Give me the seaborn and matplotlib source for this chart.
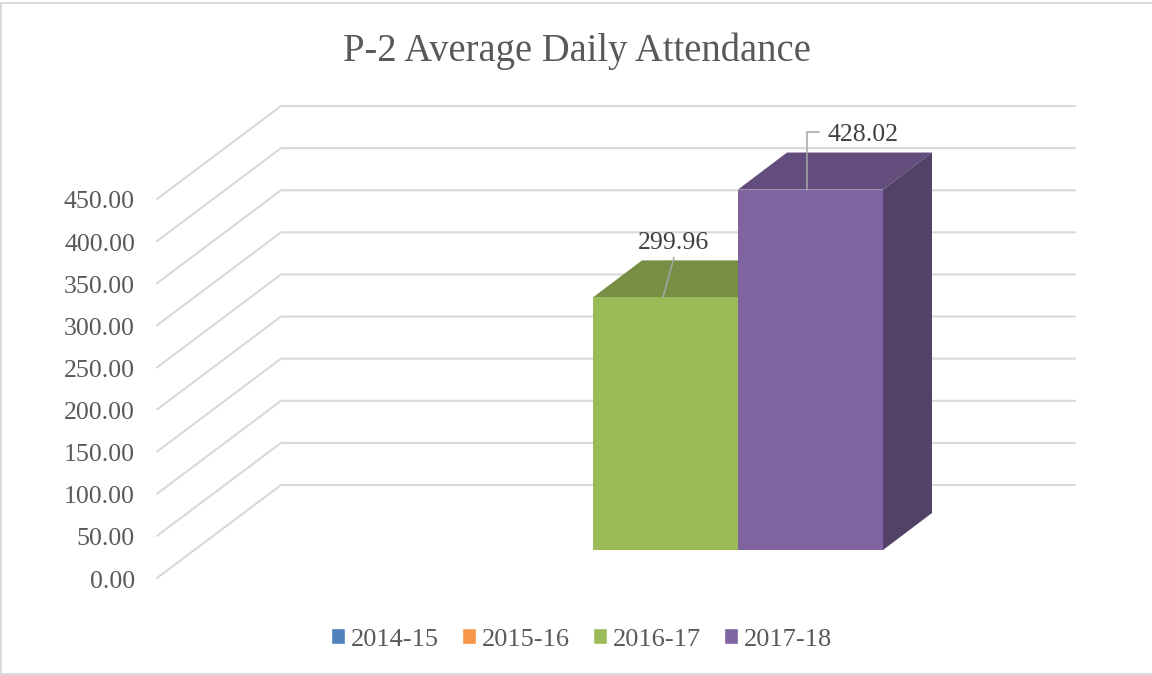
import numpy as np
import pandas as pd
import matplotlib
matplotlib.use("Agg")
import matplotlib.pyplot as plt
from matplotlib.lines import Line2D
from matplotlib.patches import Polygon, Rectangle
from matplotlib.colors import to_rgb
import seaborn as sns

# Data
title = "P-2 Average Daily Attendance"
years = ["2014-15", "2015-16", "2016-17", "2017-18"]
values = [np.nan, np.nan, 299.96, 428.02]
ticks = [0, 50, 100, 150, 200, 250, 300, 350, 400, 450]
colors = ["#4F81BD", "#F79646", "#9BBB59", "#8064A2"]

# Style / geometry (pixels of the 1152x675 canvas)
W, H = 1152, 675
PX_PER_UNIT = 0.8422
BAR_W = 145.0
X0_PX = 375.5      # centre of first bar
Y0_PX = 550.0      # floor of the bars' front face
DEPTH_X, DEPTH_Y = 49.0, 37.0
GRID = "#D9D9D9"
TICK_TXT = "#595959"
LABEL_TXT = "#404040"
LEADER = "#A6A6A6"
FONT = "Liberation Serif"


def dx(px):
    return px / BAR_W


def dy(px):
    return px / PX_PER_UNIT


def xd(px):
    return (px - X0_PX) / BAR_W


def yd(py):
    return (Y0_PX - py) / PX_PER_UNIT


sns.set_theme(style="white")
plt.rcParams["font.family"] = [FONT, "DejaVu Serif"]

fig = plt.figure(figsize=(W / 100, H / 100), dpi=100, facecolor="white")
ax = fig.add_axes([0, 0, 1, 1])
df = pd.DataFrame({"year": years, "value": values})
sns.barplot(data=df, x="year", y="value", hue="year", order=years, hue_order=years,
            palette=colors, width=1.0, saturation=1.0, ax=ax, zorder=3, legend=True)
ax.set_xlim(xd(0), xd(W))
ax.set_ylim(yd(H), yd(0))
ax.set_axis_off()

# Back wall grid with receding floor lines
FRONT_X, FRONT_Y0 = 157.0, 578.0
FRONT_SCALE = (578.0 - 199.0) / 450.0
BACK_X, BACK_Y0 = 281.0, 485.0
RIGHT_X = 1075.0
for t in ticks:
    ax.plot([xd(FRONT_X), xd(BACK_X), xd(RIGHT_X)],
            [yd(FRONT_Y0 - t * FRONT_SCALE), yd(BACK_Y0 - t * PX_PER_UNIT), yd(BACK_Y0 - t * PX_PER_UNIT)],
            color=GRID, lw=1.5, zorder=1, solid_joinstyle="miter")


def shade(c, f):
    return tuple(v * f for v in to_rgb(c))


# 3D faces for each bar
fronts = [p for p in ax.patches if isinstance(p, Rectangle)]
z = 2.0
for i, (v, c) in enumerate(zip(values, colors)):
    if np.isnan(v):
        continue
    l, r = i - 0.5, i + 0.5
    ddx, ddy = dx(DEPTH_X), dy(DEPTH_Y)
    top = Polygon([(l, v), (r, v), (r + ddx, v + ddy), (l + ddx, v + ddy)],
                  closed=True, facecolor=shade(c, 0.765), edgecolor="none", zorder=z)
    side = Polygon([(r, 0), (r + ddx, ddy), (r + ddx, v + ddy), (r, v)],
                   closed=True, facecolor=shade(c, 0.645), edgecolor="none", zorder=z)
    ax.add_patch(top)
    ax.add_patch(side)
    for p in fronts:
        if abs(p.get_x() - l) < 1e-6:
            p.set_zorder(z + 0.5)
            p.set_edgecolor("none")
    z += 1.0

# Leader lines and data labels
v_g, v_p = values[2], values[3]
ax.plot([2 + dx(-2.5), 2 + dx(8.5)], [v_g, v_g + dy(40)], color=LEADER, lw=1.1, zorder=8)
ax.plot([3 + dx(-3.5), 3 + dx(-3.5), 3 + dx(8.5)], [v_p, v_p + dy(58), v_p + dy(58)],
        color=LEADER, lw=1.1, zorder=8, solid_joinstyle="miter")
ax.annotate(f"{v_g:.2f}", (2, v_g), xytext=(8 * 0.72, 54 * 0.72), textcoords="offset points",
            ha="center", va="center", fontsize=18.6, color=LABEL_TXT, zorder=9)
ax.annotate(f"{v_p:.2f}", (3, v_p), xytext=(53 * 0.72, 55 * 0.72), textcoords="offset points",
            ha="center", va="center", fontsize=18.6, color=LABEL_TXT, zorder=9)

# Value axis labels on the front plane
ax2 = fig.add_axes([FRONT_X / W, 1 - (FRONT_Y0 + 1) / H, 0.01, (FRONT_SCALE * 450) / H])
ax2.patch.set_alpha(0)
ax2.set_ylim(0, 450)
ax2.set_yticks(ticks)
ax2.set_yticklabels([f"{t:.2f}" for t in ticks], fontsize=18.6, color=TICK_TXT)
ax2.set_xticks([])
ax2.tick_params(axis="y", length=0, pad=22 * 0.72)
for s in ax2.spines.values():
    s.set_visible(False)

# Title
fig.text(577 / W, 1 - 51 / H, title, ha="center", va="center", fontsize=27.8, color=TICK_TXT)

# Legend
sns.move_legend(ax, "center", bbox_to_anchor=(581.5 / W, 1 - 639.5 / H), bbox_transform=fig.transFigure,
                ncol=4, frameon=False, title=None, fontsize=19, labelcolor=TICK_TXT,
                handlelength=0.52, handleheight=0.52, handletextpad=0.23, columnspacing=0.88)

# Chart frame
for xs, ys in [((1, 1), (2.5, 673.5)), ((1, W), (2.5, 2.5)), ((1, W), (673.5, 673.5))]:
    fig.add_artist(Line2D([x / W for x in xs], [1 - y / H for y in ys], color=GRID, lw=1.4,
                          transform=fig.transFigure))

fig.savefig("out.png", dpi=100, facecolor="white")
